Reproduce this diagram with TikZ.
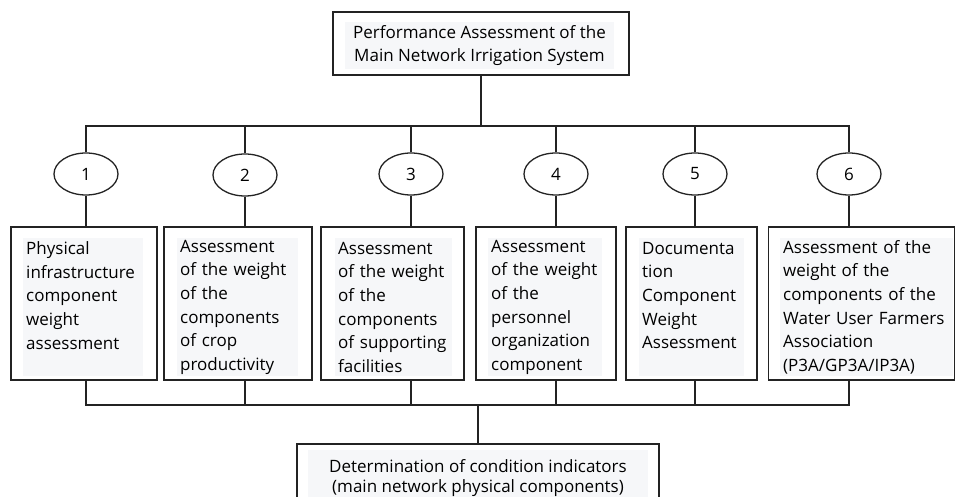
\documentclass[tikz,border=0pt]{standalone}
\usepackage{fontspec}
\setmainfont{Open Sans}
\usetikzlibrary{shapes.geometric, positioning, calc}
\definecolor{cLine}{RGB}{35,35,35}
\definecolor{cTxt}{RGB}{246,247,249}
\tikzset{
	frame/.style ={rectangle, draw=cLine, line width=1.3pt, fill=white},
	txt/.style   ={rectangle, fill=cTxt, anchor=north west, inner xsep=3pt, inner ysep=2pt, align=left, minimum height=138pt},
	num/.style   ={ellipse, draw=cLine, line width=1.3pt, fill=white, minimum width=64pt, minimum height=42pt, inner sep=0pt},
	link/.style  ={draw=cLine, line width=1.3pt},
}

\begin{document}
\begin{tikzpicture}[x=1pt, y=-1pt, font=\fontsize{17}{23.6}\selectfont]
	\useasboundingbox (0,0) rectangle (956,497);
	% head and result
	\node[frame, minimum width=296pt, minimum height=63pt] (top) at (481,43.5) {};
	\node[fill=cTxt, align=center, minimum width=269pt, minimum height=47pt, inner sep=1pt] (ttop) at (479.5,45.5) {Performance Assessment of the\\Main Network Irrigation System};
	\node[frame, minimum width=362pt, minimum height=70pt] (res) at (478,479) {};
	\node[fill=cTxt, align=center, minimum width=340pt, minimum height=56pt, inner sep=1pt, font=\fontsize{17}{19.5}\selectfont] (tres) at (478,478) {Determination of condition indicators\\(main network physical components)};
	% numbered ellipses
	\node[num] (e1) at (86,174) {1};
	\node[num] (e2) at (245,175) {2};
	\node[num] (e3) at (411,174) {3};
	\node[num] (e4) at (556,174) {4};
	\node[num] (e5) at (695,174) {5};
	\node[num] (e6) at (849,174) {6};
	% component boxes
	\node[frame, minimum width=146pt, minimum height=153pt] (b1) at (84,303.5) {};
	\node[frame, minimum width=148pt, minimum height=153pt] (b2) at (238,303.5) {};
	\node[frame, minimum width=143pt, minimum height=153pt] (b3) at (392.5,303.5) {};
	\node[frame, minimum width=140pt, minimum height=153pt] (b4) at (546,303.5) {};
	\node[frame, minimum width=131pt, minimum height=153pt] (b5) at (691.5,303.5) {};
	\node[frame, minimum width=186pt, minimum height=153pt] (b6) at (861.5,303.5) {};
	\node[txt, text width=114pt] (t1) at (23,238) {Physical\\infrastructure\\component\\weight\\assessment\\~};
	\node[txt, text width=115pt] (t2) at (177,238) {Assessment\\of the weight\\of the\\components\\of crop\\productivity};
	\node[txt, text width=111pt] (t3) at (335,238) {Assessment\\of the weight\\of the\\components\\of supporting\\facilities};
	\node[txt, text width=108pt] (t4) at (488,238) {Assessment\\of the weight\\of the\\personnel\\organization\\component};
	\node[txt, text width=99pt] (t5) at (639,238) {Documenta\\tion\\Component\\Weight\\Assessment\\~};
	\node[txt, text width=167pt] (t6) at (780,238) {Assessment of the\\weight of the\\components of the\\Water User Farmers\\Association\\(P3A/GP3A/IP3A)};
	% upper bus
	\coordinate (bus) at (481,126);
	\draw[link] (top.south) -- (top.south |- bus);
	\draw[link] (e1.north) |- (e6.north |- bus) -- (e6.north);
	\foreach \i in {2,3,4,5} {\draw[link] (e\i.north) -- (e\i.north |- bus);}
	\foreach \i in {1,...,6} {\draw[link] (e\i.south) -- (e\i.south |- b\i.north);}
	% lower bus
	\coordinate (low) at (478,405);
	\draw[link] (e1 |- b1.south) |- (e6 |- low) -- (e6 |- b6.south);
	\foreach \i in {2,3,4,5} {\draw[link] (e\i |- b\i.south) -- (e\i |- low);}
	\draw[link] (low) -- (res.north);
\end{tikzpicture}
\end{document}
